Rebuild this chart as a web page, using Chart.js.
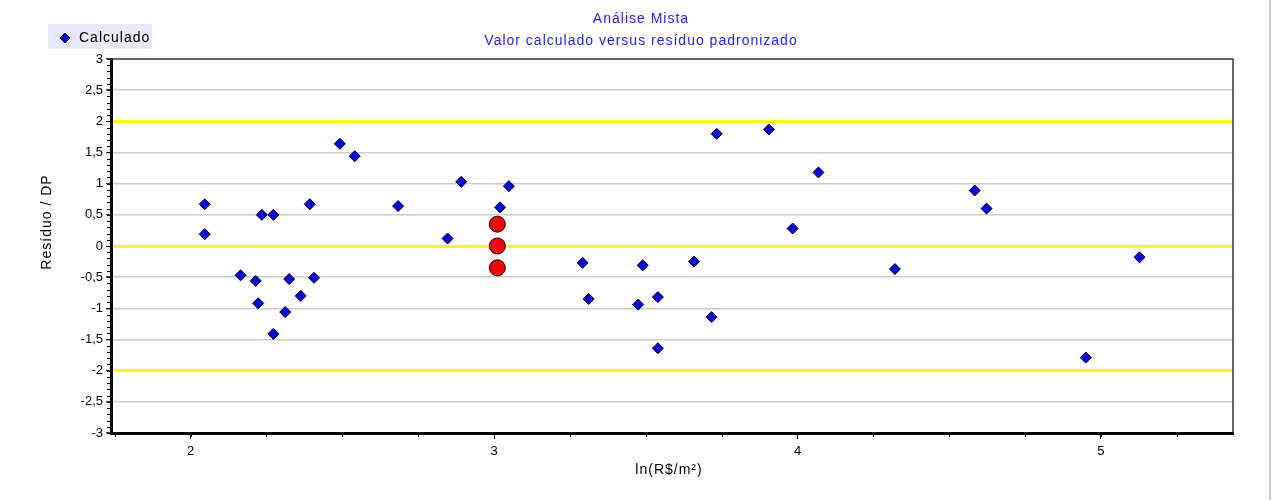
<!DOCTYPE html>
<html>
<head>
<meta charset="utf-8">
<script src="https://cdn.jsdelivr.net/npm/chart.js"></script>
<style>
html, body { margin: 0; padding: 0; background: #fff; }
</style>
</head>
<body>
<canvas id="residuos" width="1273" height="500"></canvas>
<script>
// valores
const calcX = [2.047, 2.047, 2.165, 2.215, 2.235, 2.223, 2.273, 2.273, 2.312, 2.325,
    2.363, 2.393, 2.407, 2.492, 2.541, 2.684, 2.847, 2.892, 3.020, 3.049,
    3.292, 3.312, 3.475, 3.490, 3.540, 3.540, 3.659, 3.717, 3.734, 3.906,
    3.984, 4.069, 4.321, 4.584, 4.623, 4.950, 5.127];
const calcY = [0.67, 0.19, -0.47, -0.56, 0.50, -0.92, 0.50, -1.41, -1.06, -0.53,
    -0.80, 0.67, -0.51, 1.64, 1.44, 0.64, 0.12, 1.03, 0.62, 0.96,
    -0.27, -0.85, -0.94, -0.31, -0.82, -1.64, -0.25, -1.14, 1.80, 1.87,
    0.28, 1.18, -0.37, 0.89, 0.60, -1.79, -0.18];
const destaqueX = [3.011, 3.011, 3.011];
const destaqueY = [0.35, 0, -0.35];
const xTicks = [2, 3, 4, 5];
const yTicks = [-3, -2.5, -2, -1.5, -1, -0.5, 0, 0.5, 1, 1.5, 2, 2.5, 3];
const limites = [-2, 0, 2];
const xMinorStep = 0.25;
const yMinorStep = 0.1;

const titulo = ['Análise Mista', 'Valor calculado versus resíduo padronizado'];
const tituloX = 'ln(R$/m²)';
const tituloY = 'Resíduo / DP';

const familia = "'Liberation Sans', Arial, sans-serif";
const fonteTicks = { family: familia, size: 13 };

function pares(xs, ys) {
    return xs.map((x, i) => ({ x: x, y: ys[i] }));
}

// títulos, legenda, moldura e marcas menores
const extras = {
    id: 'extras',
    afterDraw(chart) {
        const ctx = chart.ctx;
        const area = chart.chartArea;
        const xs = chart.scales.x;
        const ys = chart.scales.y;
        ctx.save();

        // moldura superior e direita
        ctx.strokeStyle = '#333';
        ctx.lineWidth = 1.5;
        ctx.beginPath();
        ctx.moveTo(area.left, area.top);
        ctx.lineTo(area.right, area.top);
        ctx.lineTo(area.right, area.bottom);
        ctx.stroke();

        // marcas menores
        ctx.strokeStyle = '#000';
        ctx.lineWidth = 1;
        ctx.beginPath();
        for (let v = ys.min; v <= ys.max + 1e-9; v += yMinorStep) {
            const y = Math.round(ys.getPixelForValue(v)) + 0.5;
            ctx.moveTo(area.left - 4, y);
            ctx.lineTo(area.left - 1, y);
        }
        for (let v = Math.ceil(xs.min / xMinorStep) * xMinorStep; v <= xs.max; v += xMinorStep) {
            const x = Math.round(xs.getPixelForValue(v)) + 0.5;
            ctx.moveTo(x, area.bottom + 1);
            ctx.lineTo(x, area.bottom + 4);
        }
        ctx.stroke();

        // textos com espaçamento largo
        ctx.font = '14px ' + familia;
        ctx.letterSpacing = '1px';
        ctx.textBaseline = 'middle';
        ctx.textAlign = 'center';
        ctx.fillStyle = '#2222ff';
        ctx.fillText(titulo[0], 641, 19);
        ctx.fillText(titulo[1], 641, 41);

        ctx.fillStyle = '#000';
        ctx.fillText(tituloX, 669, 470);
        ctx.save();
        ctx.translate(47, 222);
        ctx.rotate(-Math.PI / 2);
        ctx.fillText(tituloY, 0, 0);
        ctx.restore();

        // legenda
        ctx.fillStyle = '#e8e8f8';
        ctx.fillRect(48, 24, 104, 25);
        const ds = chart.data.datasets[0];
        ctx.fillStyle = ds.backgroundColor;
        ctx.strokeStyle = '#000';
        ctx.beginPath();
        ctx.moveTo(65, 33);
        ctx.lineTo(70, 38);
        ctx.lineTo(65, 43);
        ctx.lineTo(60, 38);
        ctx.closePath();
        ctx.fill();
        ctx.stroke();
        ctx.fillStyle = '#000';
        ctx.textAlign = 'left';
        ctx.fillText(ds.label, 79, 38);

        // borda da janela
        ctx.strokeStyle = '#c8c8c8';
        ctx.lineWidth = 2;
        ctx.beginPath();
        ctx.moveTo(1270, 0);
        ctx.lineTo(1270, 500);
        ctx.stroke();
        ctx.restore();
    }
};

const residuosCtx = document.getElementById('residuos').getContext('2d');
const residuosChart = new Chart(residuosCtx, {
    type: 'scatter',
    data: {
        datasets: [{
            label: 'Calculado',
            data: pares(calcX, calcY),
            pointStyle: 'rectRot',
            pointRadius: 5.5,
            backgroundColor: '#0000ff',
            borderColor: '#000',
            borderWidth: 1
        }, {
            label: 'Destaque',
            data: pares(destaqueX, destaqueY),
            pointStyle: 'circle',
            pointRadius: 8,
            backgroundColor: '#ff0000',
            borderColor: '#000',
            borderWidth: 1
        }]
    },
    options: {
        responsive: false,
        animation: false,
        layout: { padding: { left: 0, right: 40, top: 59, bottom: 0 } },
        plugins: {
            legend: { display: false },
            tooltip: { enabled: false },
            title: { display: false }
        },
        scales: {
            x: {
                type: 'linear',
                min: 1.738,
                max: 5.435,
                afterBuildTicks: s => { s.ticks = xTicks.map(v => ({ value: v })); },
                afterFit: s => { s.height = 67; },
                grid: { drawOnChartArea: false, drawTicks: true, tickLength: 6, tickColor: '#000' },
                border: { display: true, width: 3, color: '#000' },
                ticks: { color: '#000', font: fonteTicks, padding: 5 }
            },
            y: {
                min: -3,
                max: 3,
                afterBuildTicks: s => { s.ticks = yTicks.map(v => ({ value: v })); },
                afterFit: s => { s.width = 111; },
                grid: {
                    color: c => {
                        const v = c.tick ? c.tick.value : null;
                        if (limites.includes(v)) return '#ffff00';
                        if (v === -3 || v === 3) return 'rgba(0,0,0,0)';
                        return '#cccccc';
                    },
                    lineWidth: c => (c.tick && limites.includes(c.tick.value)) ? 3 : 1.5,
                    tickColor: '#000',
                    tickLength: 5,
                    tickWidth: 1
                },
                border: { display: true, width: 3, color: '#000' },
                ticks: {
                    color: '#000',
                    font: fonteTicks,
                    padding: 3,
                    callback: v => String(v).replace('.', ',')
                }
            }
        }
    },
    plugins: [extras]
});
</script>
</body>
</html>
